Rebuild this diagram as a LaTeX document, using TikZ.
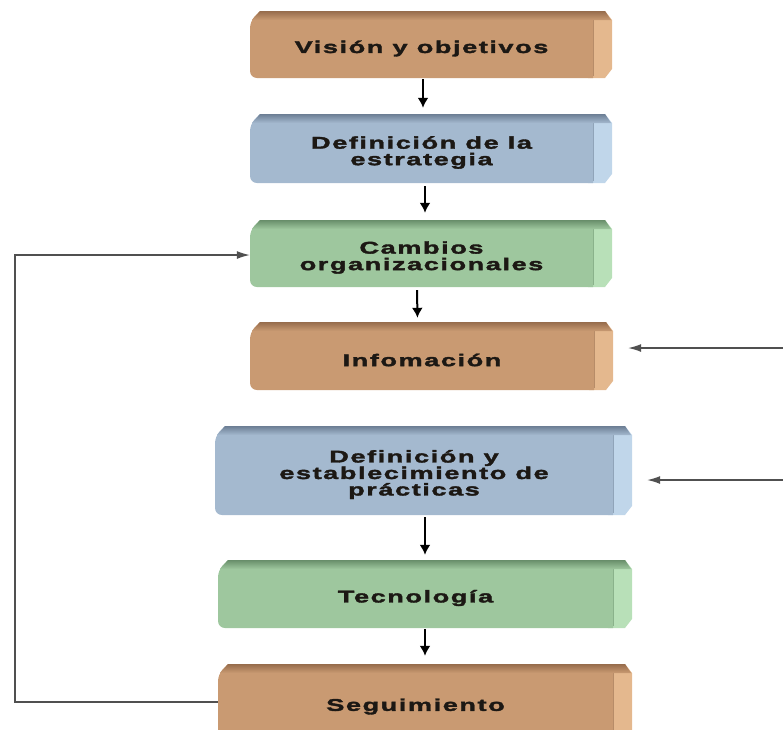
\documentclass[tikz,border=0pt]{standalone}
\usepackage{fontspec}
\newfontfamily\boxfont{Liberation Sans Bold}[FakeStretch=1.6,LetterSpace=9,FakeBold=2]
\usetikzlibrary{arrows.meta,calc}
\definecolor{orbody}{RGB}{201,154,114}
\definecolor{ortop}{RGB}{150,108,76}
\definecolor{orside}{RGB}{228,184,142}
\definecolor{blbody}{RGB}{164,185,207}
\definecolor{bltop}{RGB}{108,126,148}
\definecolor{blside}{RGB}{192,214,234}
\definecolor{grbody}{RGB}{158,199,158}
\definecolor{grtop}{RGB}{104,142,106}
\definecolor{grside}{RGB}{184,224,184}
\definecolor{txt}{RGB}{28,24,20}
\definecolor{fbline}{RGB}{80,80,80}
\tikzset{
  boxtext/.style={font=\boxfont\fontsize{17}{16.5}\selectfont, text=txt, align=center, inner sep=0pt},
  varr/.style={line width=2pt, -{Latex[length=10pt,width=11pt]}, black},
  harr/.style={line width=1.3pt, fbline, -{Latex[length=13pt,width=8pt]}},
}
\newcommand{\stepblock}[7]{%
  \fill[#6side] (#4-24,#3) -- (#4-7,#3) -- (#4,#3+9) -- (#4,#5-9) -- (#4-7,#5) -- (#4-24,#5) -- cycle;
  \draw[#6top!60!#6side, line width=0.8pt] (#4-19,#3+6) -- (#4-19,#5-2);
  \fill[#6body] (#2,#3+10) -- (#2+10,#3) -- (#4-19,#3) -- (#4-19,#5) [rounded corners=7pt] -- (#2,#5) -- cycle;
  \shade[top color=#6top, bottom color=#6body] (#2+10,#3) -- (#4-7,#3) -- (#4-1,#3+9) -- (#2+2,#3+9) -- cycle;
  \node[minimum width={(#4-#2)*1pt}, minimum height={(#5-#3)*1pt}, inner sep=0pt] (#1) at ({(#2+#4)/2},{(#3+#5)/2}) {};
  \node[boxtext] (#1-t) at ({(#2+#4-19)/2},{(#3+#5)/2+4}) {#7};
}
\begin{document}
\begin{tikzpicture}[x=1pt,y=-1pt]
\useasboundingbox (0,0) rectangle (783,729);
\clip (0,0) rectangle (783,729);
\stepblock{b1}{250}{11}{612}{78}{or}{Visión y objetivos}
\stepblock{b2}{250}{114}{612}{183}{bl}{Definición de la\\estrategia}
\stepblock{b3}{250}{220}{612}{287}{gr}{Cambios\\organizacionales}
\stepblock{b4}{250}{322}{613}{390}{or}{Infomación}
\stepblock{b5}{215}{426}{632}{515}{bl}{Definición y\\establecimiento de\\prácticas}
\stepblock{b6}{218}{560}{632}{628}{gr}{Tecnología}
\stepblock{b7}{218}{664}{632}{741}{or}{Seguimiento}
% vertical arrows
\draw[varr, shorten <=1pt, shorten >=6pt] ([xshift=-8pt]b1.south) -- ([xshift=-8pt]b2.north);
\draw[varr, shorten <=3pt, shorten >=7pt] ([xshift=-6pt]b2.south) -- ([xshift=-6pt]b3.north);
\draw[varr, shorten <=3pt, shorten >=4pt] ([xshift=-14pt]b3.south) -- ([xshift=-14pt]b4.north);
\draw[varr, shorten <=2pt, shorten >=5pt] ([xshift=1.5pt]b5.south) -- ([xshift=1.5pt]b5.south |- b6.north);
\draw[varr, shorten <=1pt, shorten >=8pt] (b6.south) -- (b7.north);
% right-hand incoming arrows
\coordinate (r4) at (783,348);
\coordinate (r5) at (783,480);
\draw[harr, shorten >=15pt] (r4) -- (b4.east |- r4);
\draw[harr, shorten >=15pt] (r5) -- (b5.east |- r5);
% feedback loop
\coordinate (c1) at (15,702);
\coordinate (c2) at (15,255);
\draw[harr] (b7.west |- c1) -- (c1) -- (c2) -- (b3.west |- c2);
\end{tikzpicture}
\end{document}
